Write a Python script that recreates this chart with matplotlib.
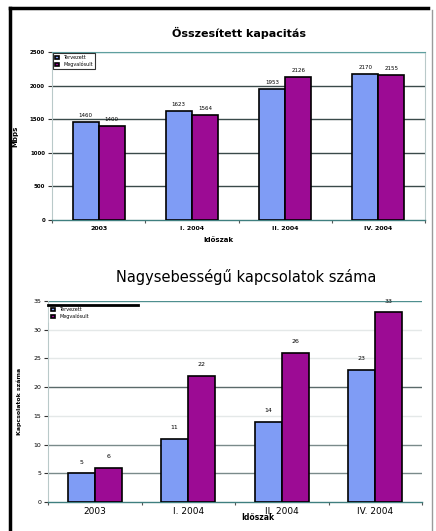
import matplotlib
matplotlib.use("Agg")
import matplotlib.pyplot as plt
from matplotlib.lines import Line2D
import numpy as np

# ---- data ----
periods_top = ["2003", "I. 2004", "II. 2004", "IV. 2004"]
planned_capacity = [1460, 1623, 1953, 2170]
actual_capacity = [1400, 1564, 2126, 2155]
top_yticks = [0, 500, 1000, 1500, 2000, 2500]

periods_bottom = ["2003", "I. 2004", "II. 2004", "IV. 2004"]
planned_links = [5, 11, 14, 23]
actual_links = [6, 22, 26, 33]
bottom_yticks = [0, 5, 10, 15, 20, 25, 30, 35]

series_names = ["Tervezett", "Megvalósult"]

BLUE = "#7f9cf5"
MAG = "#9c0b94"

W, H = 436, 531
fig = plt.figure(figsize=(W / 100, H / 100), dpi=100)

def fx(px):
    return px / W

def fy(py):
    return 1 - py / H

# outer frame
fig.add_artist(Line2D([fx(10), fx(10)], [fy(8), 0], color="black", lw=2.5, transform=fig.transFigure))
fig.add_artist(Line2D([fx(10), fx(428)], [fy(8), fy(8)], color="black", lw=2.5, transform=fig.transFigure))
fig.add_artist(Line2D([fx(432), fx(432)], [fy(10), 0], color="#9a9a9a", lw=1.0, transform=fig.transFigure))

def style_axes(ax, yticks, grid_colors):
    ax.set_facecolor("white")
    for s in ["left", "right", "top"]:
        ax.spines[s].set_color("#b9c9c9")
        ax.spines[s].set_linewidth(0.8)
    ax.spines["bottom"].set_color("#3f7f7f")
    ax.spines["bottom"].set_linewidth(1.0)
    ax.set_yticks(yticks)
    ax.set_ylim(yticks[0], yticks[-1])
    for t, c in zip(yticks[1:], grid_colors):
        ax.axhline(t, color=c, lw=1.0, zorder=0)
    ax.set_xlim(-0.5, 3.5)
    ax.set_xticks([-0.5, 0.5, 1.5, 2.5, 3.5], minor=False)
    ax.tick_params(axis="x", which="major", length=2, labelbottom=False, color="#555555")
    ax.tick_params(axis="y", length=3, color="#333333", pad=2)

# ---- top chart ----
ax1 = fig.add_axes([fx(52), fy(220), fx(425 - 52), (220 - 52) / H])
x = np.arange(len(periods_top))
bw = 0.28
b1 = ax1.bar(x - bw / 2, planned_capacity, bw, color=BLUE, edgecolor="black", lw=1.2, zorder=3, label=series_names[0])
b2 = ax1.bar(x + bw / 2, actual_capacity, bw, color=MAG, edgecolor="black", lw=1.2, zorder=3, label=series_names[1])
style_axes(ax1, top_yticks, ["#3a4a4a", "#3a4a4a", "#3a4a4a", "#3a4a4a", "#5f9f9f"])
ax1.spines["top"].set_color("#5f9f9f")
ax1.set_yticklabels([str(t) for t in top_yticks], fontsize=4, fontweight="bold")
for i, p in enumerate(periods_top):
    ax1.text(i, -0.05, p, transform=ax1.get_xaxis_transform(), ha="center", va="center", fontsize=4.5, fontweight="bold")
for rects, vals in [(b1, planned_capacity), (b2, actual_capacity)]:
    for r, v in zip(rects, vals):
        ax1.text(r.get_x() + r.get_width() / 2, v + 60, str(v), ha="center", va="bottom", fontsize=4, zorder=4)
ax1.set_title("Összesített kapacitás", fontsize=8, fontweight="bold", pad=11)
ax1.text(0.445, -0.12, "Időszak", transform=ax1.transAxes, ha="center", va="center", fontsize=5, fontweight="bold")
ax1.set_ylabel("Mbps", fontsize=5, fontweight="bold", labelpad=8)
leg1 = ax1.legend(loc="upper left", fontsize=3.5, frameon=True, fancybox=False, edgecolor="black",
                  borderpad=0.4, handlelength=0.8, handleheight=0.6, labelspacing=0.3, borderaxespad=0.3)
leg1.get_frame().set_linewidth(0.8)

# ---- bottom chart ----
ax2 = fig.add_axes([fx(48), fy(502), fx(422 - 48), (502 - 301) / H])
bw2 = 0.29
c1 = ax2.bar(x - bw2 / 2, planned_links, bw2, color=BLUE, edgecolor="black", lw=1.2, zorder=3, label=series_names[0])
c2 = ax2.bar(x + bw2 / 2, actual_links, bw2, color=MAG, edgecolor="black", lw=1.2, zorder=3, label=series_names[1])
style_axes(ax2, bottom_yticks, ["#7a8a8a", "#7a8a8a", "#e4e8e8", "#5a6a6a", "#e4e8e8", "#e4e8e8", "#4f8f8f"])
ax2.spines["top"].set_visible(False)
ax2.spines["right"].set_visible(False)
ax2.set_yticklabels([str(t) for t in bottom_yticks], fontsize=4.5)
for i, p in enumerate(periods_bottom):
    ax2.text(i, -0.045, p, transform=ax2.get_xaxis_transform(), ha="center", va="center", fontsize=6.5)
for rects, vals in [(c1, planned_links), (c2, actual_links)]:
    for r, v in zip(rects, vals):
        ax2.text(r.get_x() + r.get_width() / 2, v + 1.5, str(v), ha="center", va="bottom", fontsize=4.5, zorder=4)
ax2.set_title("Nagysebességű kapcsolatok száma", fontsize=10.5, pad=14, x=0.53)
ax2.text(0.56, -0.075, "Időszak", transform=ax2.transAxes, ha="center", va="center", fontsize=5.5, fontweight="bold")
ax2.set_ylabel("Kapcsolatok száma", fontsize=4.5, fontweight="bold", labelpad=8)
leg2 = ax2.legend(loc="upper left", fontsize=3.5, frameon=True, fancybox=False, edgecolor="white",
                  borderpad=0.5, handlelength=0.8, handleheight=0.6, labelspacing=0.3,
                  bbox_to_anchor=(0.0, 0.985), borderaxespad=0.2)
fig.add_artist(Line2D([fx(48), fx(138)], [fy(305), fy(305)], color="black", lw=2.0, transform=fig.transFigure))

fig.savefig("out.png", dpi=100)
